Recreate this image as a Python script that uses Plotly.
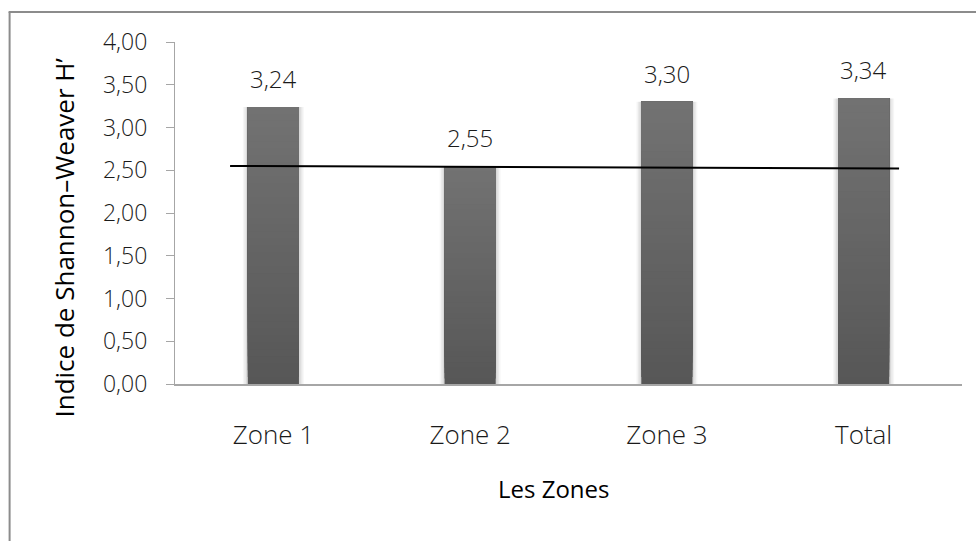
import plotly.graph_objects as go

# Shannon-Weaver diversity index per zone
zones = ["Zone 1", "Zone 2", "Zone 3", "Total"]
shannon_h = [3.24, 2.55, 3.30, 3.34]

# Horizontal reference line (x in category units, y in index units)
ref_x = [-0.22, 3.18]
ref_y = [2.55, 2.52]

y_ticks = [0, 0.5, 1, 1.5, 2, 2.5, 3, 3.5, 4]
y_tick_text = ["0,00", "0,50", "1,00", "1,50", "2,00", "2,50", "3,00", "3,50", "4,00"]

W, H = 976, 541
L, R, T, B = 174.5, 14, 42, 157
PW, PH = W - L - R, H - T - B
BAR_W = 0.26
N_SEG = 40
TOP_RGB = (114, 114, 114)
BOT_RGB = (87, 87, 87)

LIGHT = dict(family="Open Sans", weight=300, color="#1a1a1a")


def px_x(p):
    return (p - L) / PW


def px_y(p):
    return (H - B - p) / PH


xpos = list(range(len(zones)))
fig = go.Figure()

# soft shadow around each column
for extra, alpha in [(0.05, 0.035), (0.035, 0.05), (0.018, 0.07)]:
    fig.add_trace(go.Bar(
        x=xpos, y=shannon_h, base=[0] * len(zones), width=BAR_W + extra,
        marker=dict(color=f"rgba(0,0,0,{alpha})", line=dict(width=0)),
        hoverinfo="skip", showlegend=False,
    ))

# vertical gradient fill: each layer runs from its start height up to the
# column top, so later (lighter) layers cover the upper part without seams
for k in range(N_SEG):
    f = k / (N_SEG - 1)
    c = tuple(round(BOT_RGB[i] + (TOP_RGB[i] - BOT_RGB[i]) * f) for i in range(3))
    starts = [v * k / N_SEG for v in shannon_h]
    fig.add_trace(go.Bar(
        x=xpos,
        y=[v - s for v, s in zip(shannon_h, starts)],
        base=starts,
        width=BAR_W,
        marker=dict(color=f"rgb{c}", line=dict(width=0)),
        hoverinfo="skip", showlegend=False,
    ))

fig.add_trace(go.Scatter(
    x=ref_x, y=ref_y, mode="lines",
    line=dict(color="black", width=2), hoverinfo="skip", showlegend=False,
))

for xi, v in zip(xpos, shannon_h):
    fig.add_annotation(
        x=xi, y=v, text=f"{v:.2f}".replace(".", ","), showarrow=False,
        xanchor="center", yanchor="bottom", yshift=10,
        font=dict(size=24, **LIGHT),
    )

fig.add_annotation(
    xref="paper", yref="paper", x=px_x(63), y=px_y(238),
    xanchor="center", yanchor="middle",
    text="Indice de Shannon–Weaver H’", textangle=-90, showarrow=False,
    font=dict(family="Open Sans", size=26, color="black"),
)
fig.add_annotation(
    xref="paper", yref="paper", x=px_x(553), y=px_y(488),
    xanchor="center", yanchor="middle",
    text="Les Zones", showarrow=False,
    font=dict(family="Open Sans", size=24, color="black"),
)

# outer chart frame (left and top edges)
fig.add_shape(type="line", xref="paper", yref="paper",
              x0=px_x(9), x1=px_x(9), y0=px_y(12), y1=px_y(545),
              line=dict(color="#8c8c8c", width=2))
fig.add_shape(type="line", xref="paper", yref="paper",
              x0=px_x(8), x1=px_x(980), y0=px_y(12), y1=px_y(12),
              line=dict(color="#8c8c8c", width=2))

fig.update_layout(
    width=W, height=H,
    margin=dict(l=L, r=R, t=T, b=B),
    barmode="overlay",
    paper_bgcolor="white", plot_bgcolor="white",
    font=dict(family="Open Sans", color="#1a1a1a"),
    xaxis=dict(
        range=[-0.5, 3.5], tickvals=xpos, ticktext=zones,
        showgrid=False, zeroline=False,
        showline=True, linecolor="#a6a6a6", linewidth=1.5,
        ticks="", ticklabelstandoff=27,
        tickfont=dict(size=26, **LIGHT),
    ),
    yaxis=dict(
        range=[0, 4], tickvals=y_ticks, ticktext=y_tick_text,
        showgrid=False, zeroline=False,
        showline=True, linecolor="#a6a6a6", linewidth=1.2,
        ticks="outside", ticklen=8, tickcolor="#a6a6a6",
        ticklabelstandoff=14,
        tickfont=dict(size=23, family="Open Sans", weight=350, color="#1a1a1a"),
    ),
)

fig.write_html("out.html")
